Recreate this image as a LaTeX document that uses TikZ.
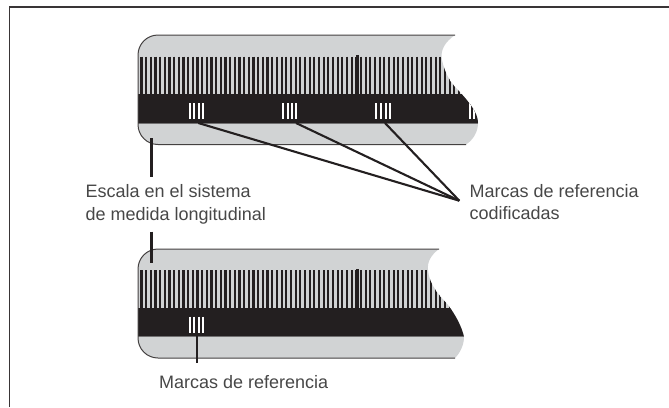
\documentclass[tikz,border=0pt]{standalone}
\usepackage{fontspec}
\setmainfont{Liberation Sans}
\usetikzlibrary{positioning}
\definecolor{scalegray}{HTML}{D1D3D4}
\definecolor{scaleblack}{HTML}{231F20}
\tikzstyle{label} = [inner sep=0pt, anchor=base west, align=left, text=black!72, font=\fontsize{18}{22.5}\selectfont]
\tikzstyle{leader} = [draw=scaleblack, line width=2.1pt]
\tikzstyle{edgeline} = [draw=scaleblack!85, line width=1pt]
\tikzstyle{tick} = [draw=scaleblack, line width=2.2pt]
\tikzstyle{slit} = [draw=white, line width=2pt]
\begin{document}
\begin{tikzpicture}[x=1pt, y=-1pt]
	\useasboundingbox (0,0) rectangle (669,407);
	% frame
	\draw [scaleblack!90, line width=1.5pt] (9.5,407) -- (9.5,7) -- (669,7);

	% upper scale
	\def\upperedge{(455,35) -- (158,35) arc[start angle=-90, end angle=-180, radius=20] -- (138,124.5) arc[start angle=180, end angle=90, radius=20] -- (466,144.5)}
	\def\upperbody{\upperedge
		.. controls (473,140) and (478,132) .. (478,123) .. controls (478,113) and (470,103) .. (458,90)
		.. controls (452,84) and (445,75) .. (442,60) .. controls (440,50) and (445,42) .. (455,35) -- cycle}
	\fill [scalegray] \upperbody;
	\begin{scope}
		\clip \upperbody;
		\foreach \x in {141.5,146.17,...,480} \draw [tick] (\x,56.7) -- (\x,95);
		\draw [tick, line width=3pt] (357,55) -- (357,95);
		\fill [scaleblack] (130,94) rectangle (490,122.5);
		\draw [scaleblack!55!scalegray, line width=.8pt] (130,123) -- (490,123);
		\foreach \g in {188.5,282,375.3,468.6} \foreach \d in {1,5.6,10.2,14.3} \draw [slit] (\g+\d,103.3) -- (\g+\d,119.3);
	\end{scope}
	\draw [edgeline] \upperedge;

	% lower scale
	\def\loweredge{(439,249) -- (158,249) arc[start angle=-90, end angle=-180, radius=20] -- (138,338) arc[start angle=180, end angle=90, radius=20] -- (455,358)}
	\def\lowerbody{\loweredge
		.. controls (460,353) and (464,345) .. (464,337) .. controls (462,327) and (455,314) .. (448,305)
		.. controls (440,296) and (429,285) .. (428,270) .. controls (427,262) and (431,255) .. (439,249) -- cycle}
	\fill [scalegray] \lowerbody;
	\begin{scope}
		\clip \lowerbody;
		\foreach \x in {141.5,146.17,...,470} \draw [tick] (\x,270) -- (\x,308);
		\draw [tick, line width=3pt] (357,269) -- (357,308);
		\fill [scaleblack] (130,307.5) rectangle (490,336);
		\draw [scaleblack!55!scalegray, line width=.8pt] (130,336.5) -- (490,336.5);
		\foreach \d in {1,5.6,10.2,14.3} \draw [slit] (188.5+\d,316.7) -- (188.5+\d,332.7);
	\end{scope}
	\draw [edgeline] \loweredge;

	% labels
	\node (escala) [label] at (85.5,220) {Escala en el sistema\\de medida longitudinal};
	\node (codif) [label] at (469.5,219.5) {Marcas de referencia\\codificadas};
	\node (marcas) [label] at (159,388) {Marcas de referencia};

	% leader ends
	\coordinate (m1) at (198.3,123);
	\coordinate (m2) at (296,123);
	\coordinate (m3) at (385,123);
	\coordinate (tip) at (459.3,200.7);
	\coordinate (up) at (151.5,138);
	\coordinate (upEnd) at (151.5,177);
	\coordinate (low) at (151.5,231.7);
	\coordinate (lowEnd) at (151.5,263.3);
	\coordinate (m4) at (196.7,332.5);
	\coordinate (m4End) at (196.7,363);

	\draw [leader] (m1) -- (tip);
	\draw [leader] (m2) -- (tip);
	\draw [leader] (m3) -- (tip);
	\draw [leader] (up) -- (upEnd);
	\draw [leader] (low) -- (lowEnd);
	\draw [leader] (m4) -- (m4End);
\end{tikzpicture}
\end{document}
